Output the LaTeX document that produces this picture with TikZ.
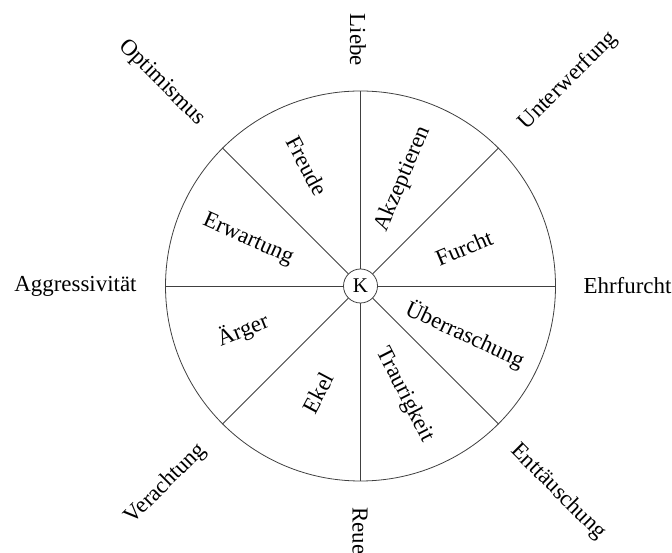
\documentclass[tikz,border=0pt]{standalone}
\usepackage{fontspec}
\setmainfont{Liberation Serif}
\begin{document}
\begin{tikzpicture}[x=1bp,y=1bp,
  rim/.style={draw=black!75, line width=0.8bp},
  lbl/.style={inner sep=0pt, font=\fontsize{23}{27}\selectfont}]
\useasboundingbox (0,0) rectangle (672,553);
% wheel and centre
\node[rim, circle, minimum size=390bp, inner sep=0pt] (wheel) at (360.5,267) {};
\node[rim, circle, minimum size=34bp, inner sep=0pt, fill=white,
      font=\fontsize{21}{25}\selectfont] (k) at (360.5,267) {K};
% spokes
\foreach \a in {0,45,...,315}
  \draw[rim] (k.\a) -- (wheel.\a);
% sector labels
\node[lbl, rotate=-62] (freude) at (307,387) {Freude};
\node[lbl, rotate=67]  (akz)    at (403,374) {Akzeptieren};
\node[lbl, rotate=-24] (erw)    at (248,313) {Erwartung};
\node[lbl, rotate=23]  (furcht) at (464,305) {Furcht};
\node[lbl, rotate=22]  (aerger) at (243,223) {Ärger};
\node[lbl, rotate=-25] (ueber)  at (465,218) {Überraschung};
\node[lbl, rotate=62]  (ekel)   at (318,160) {Ekel};
\node[lbl, rotate=-63] (trauer) at (405,158) {Traurigkeit};
% outer labels
\node[lbl, rotate=-90] (liebe)  at (358,513) {Liebe};
\node[lbl, rotate=-90] (reue)   at (360,22)  {Reue};
\node[lbl]             (aggr)   at (75.5,267) {Aggressivität};
\node[lbl]             (ehr)    at (627.5,267) {Ehrfurcht};
\node[lbl, rotate=-45] (opt)    at (162,470) {Optimismus};
\node[lbl, rotate=45]  (unter)  at (568,472) {Unterwerfung};
\node[lbl, rotate=-45] (entt)   at (558,61)  {Enttäuschung};
\node[lbl, rotate=45]  (ver)    at (166,69)  {Verachtung};
\end{tikzpicture}
\end{document}
